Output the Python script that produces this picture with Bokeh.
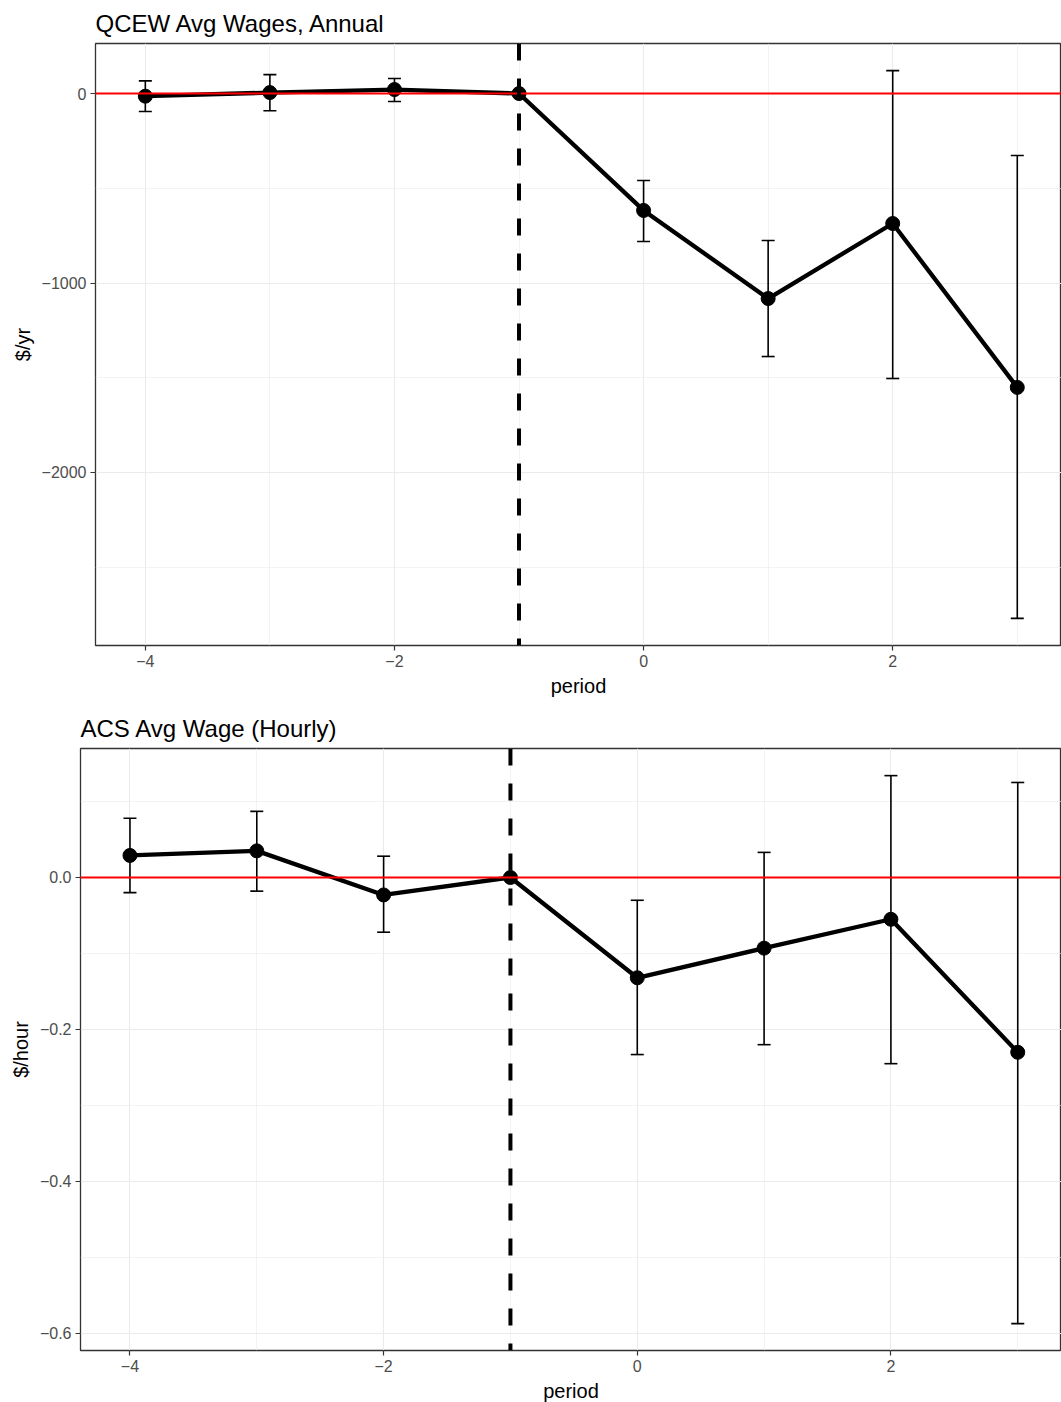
from bokeh.plotting import figure
from bokeh.models import FixedTicker, Span, Range1d
from bokeh.embed import file_html
from bokeh.resources import INLINE

# ---------------- data ----------------
periods = [-4, -3, -2, -1, 0, 1, 2, 3]

qcew_est = [-14, 5, 21, 0, -617, -1082, -686, -1551]
qcew_lo = [-95, -91, -42, 0, -781, -1388, -1504, -2770]
qcew_hi = [67, 100, 79, 0, -459, -776, 121, -327]

acs_est = [0.029, 0.035, -0.023, 0.0, -0.132, -0.093, -0.055, -0.230]
acs_lo = [-0.020, -0.018, -0.072, 0.0, -0.233, -0.220, -0.245, -0.587]
acs_hi = [0.078, 0.087, 0.028, 0.0, -0.030, 0.033, 0.134, 0.125]

x_ticks = [-4, -2, 0, 2]
x_tick_labels = ["\u22124", "\u22122", "0", "2"]
x_minor = [-3, -1, 1, 3]

qcew_y_ticks = [-2000, -1000, 0]
qcew_y_labels = ["\u22122000", "\u22121000", "0"]
qcew_y_minor = [-2500, -1500, -500]

acs_y_ticks = [-0.6, -0.4, -0.2, 0.0]
acs_y_labels = ["\u22120.6", "\u22120.4", "\u22120.2", "0.0"]
acs_y_minor = [-0.5, -0.3, -0.1, 0.1]

event_period = -1
FONT = "Liberation Sans"


def make_panel(title, ylabel, est, lo, hi, y_ticks, y_labels, y_minor,
               x_rng, y_rng, left, top, bottom, fw):
    p = figure(output_backend="svg", toolbar_location=None,
               frame_width=fw, frame_height=602,
               min_border_left=left, min_border_right=0,
               min_border_top=top, min_border_bottom=bottom,
               x_range=Range1d(*x_rng), y_range=Range1d(*y_rng),
               background_fill_color="white", border_fill_color="white")
    p.title.text = title
    p.title.text_font = FONT
    p.title.text_font_size = "24px"
    p.title.text_font_style = "normal"
    p.title.text_color = "black"
    p.title.align = "left"
    p.title.vertical_align = "top"
    p.title.offset = 0
    p.title.standoff = 9

    p.outline_line_color = "#333333"
    p.outline_line_width = 1.3

    xt = FixedTicker(ticks=x_ticks, minor_ticks=x_minor)
    yt = FixedTicker(ticks=y_ticks, minor_ticks=y_minor)
    p.xaxis.ticker = xt
    p.yaxis.ticker = yt
    p.xgrid.ticker = xt
    p.ygrid.ticker = yt
    p.xaxis.major_label_overrides = dict(zip(x_ticks, x_tick_labels))
    p.yaxis.major_label_overrides = dict(zip(y_ticks, y_labels))

    for ax in (p.xaxis, p.yaxis):
        ax.axis_line_color = None
        ax.major_tick_line_color = "#333333"
        ax.major_tick_line_width = 1.2
        ax.major_tick_out = 5
        ax.major_tick_in = 0
        ax.minor_tick_line_color = None
        ax.major_label_text_font = FONT
        ax.major_label_text_font_size = "16px"
        ax.major_label_text_color = "#4D4D4D"
        ax.major_label_standoff = 4
        ax.axis_label_text_font = FONT
        ax.axis_label_text_font_size = "20px"
        ax.axis_label_text_font_style = "normal"
        ax.axis_label_text_color = "black"
        ax.axis_label_standoff = 5
    p.xaxis.axis_label = "period"
    p.yaxis.axis_label = ylabel

    for g in (p.xgrid, p.ygrid):
        g.grid_line_color = "#EBEBEB"
        g.grid_line_width = 1.1
        g.minor_grid_line_color = "#EBEBEB"
        g.minor_grid_line_width = 0.6

    # error bars
    p.segment(x0=periods, y0=lo, x1=periods, y1=hi,
              line_color="black", line_width=1.6)
    p.scatter(x=periods, y=lo, marker="dash", size=13,
              line_color="black", line_width=1.6)
    p.scatter(x=periods, y=hi, marker="dash", size=13,
              line_color="black", line_width=1.6)
    # estimate line and points
    p.line(x=periods, y=est, line_color="black", line_width=4.3)
    p.scatter(x=periods, y=est, marker="circle", size=14,
              fill_color="black", line_color="black")

    p.add_layout(Span(location=0, dimension="width",
                      line_color="#FF0000", line_width=2))
    p.add_layout(Span(location=event_period, dimension="height",
                      line_color="black", line_width=4, line_dash="17 18"))
    return p


top = make_panel("QCEW Avg Wages, Annual", "$/yr",
                 qcew_est, qcew_lo, qcew_hi,
                 qcew_y_ticks, qcew_y_labels, qcew_y_minor,
                 (-4.40, 3.355), (-2913, 264),
                 left=95, top=43, bottom=55, fw=966)
bottom = make_panel("ACS Avg Wage (Hourly)", "$/hour",
                    acs_est, acs_lo, acs_hi,
                    acs_y_ticks, acs_y_labels, acs_y_minor,
                    (-4.39, 3.345), (-0.6224, 0.1697),
                    left=80, top=48, bottom=52, fw=981)

open("out.html", "w").write(file_html([top, bottom], INLINE))
